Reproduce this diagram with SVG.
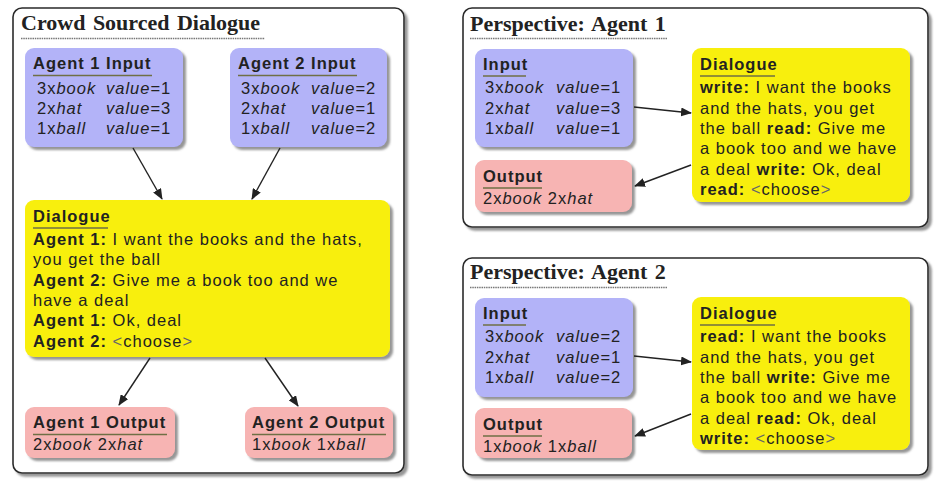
<svg xmlns="http://www.w3.org/2000/svg" width="944" height="487" viewBox="0 0 944 487">
<defs>
<filter id="sh" x="-10%" y="-10%" width="120%" height="130%">
<feDropShadow dx="3" dy="3" stdDeviation="1.2" flood-color="#8a8a8a" flood-opacity="0.9"/>
</filter>
<marker id="ah" markerUnits="userSpaceOnUse" markerWidth="11" markerHeight="9" refX="10" refY="4.5" orient="auto">
<path d="M0,0 L11,4.5 L0,9 z" fill="#222"/>
</marker>
<style>
.panel{fill:#fff;stroke:#2a2a2a;stroke-width:1.6;filter:url(#sh)}
.in{fill:#b3b3f8;filter:url(#sh)}
.out{fill:#f7b4b3;filter:url(#sh)}
.dlg{fill:#f8ef0e;filter:url(#sh)}
.title{font-family:"Liberation Serif",serif;font-weight:bold;font-size:22px;fill:#222;word-spacing:2px}
.h{font-family:"Liberation Sans",Arial,sans-serif;font-weight:bold;font-size:16.5px;letter-spacing:1px;fill:#222}
.t{font-family:"Liberation Sans",Arial,sans-serif;font-size:16.5px;letter-spacing:1px;fill:#222}
.b{font-weight:bold}
.i{font-style:italic}
.g{fill:#666}
.tul{stroke:#777;stroke-width:1.3;stroke-dasharray:1.5 0.8}
.ul{stroke:#6f6f45;stroke-width:1.3}
.conn line{stroke:#222;stroke-width:1.4;marker-end:url(#ah)}
</style>
</defs>

<g id="panel-crowd">
<rect class="panel" x="13" y="8" width="391" height="465" rx="9"/>
<text class="title" x="21" y="30">Crowd Sourced Dialogue</text>
<line class="tul" x1="21" y1="38.5" x2="265" y2="38.5"/>
</g>

<g id="agent1-input">
<rect class="in" x="25" y="48" width="158" height="99" rx="9"/>
<text class="h" x="33" y="69">Agent 1 Input</text>
<line class="ul" x1="33" y1="75.5" x2="152" y2="75.5"/>
<text class="t" x="37" y="94">3x<tspan class="i">book</tspan><tspan x="106" class="i">value</tspan>=1</text>
<text class="t" x="37" y="114">2x<tspan class="i">hat</tspan><tspan x="106" class="i">value</tspan>=3</text>
<text class="t" x="37" y="134">1x<tspan class="i">ball</tspan><tspan x="106" class="i">value</tspan>=1</text>
</g>

<g id="agent2-input">
<rect class="in" x="230" y="48" width="157" height="99" rx="9"/>
<text class="h" x="238" y="69">Agent 2 Input</text>
<line class="ul" x1="238" y1="75.5" x2="357" y2="75.5"/>
<text class="t" x="241" y="94">3x<tspan class="i">book</tspan><tspan x="311" class="i">value</tspan>=2</text>
<text class="t" x="241" y="114">2x<tspan class="i">hat</tspan><tspan x="311" class="i">value</tspan>=1</text>
<text class="t" x="241" y="134">1x<tspan class="i">ball</tspan><tspan x="311" class="i">value</tspan>=2</text>
</g>

<g id="dialogue">
<rect class="dlg" x="25" y="200" width="365" height="157" rx="9"/>
<text class="h" x="33" y="222">Dialogue</text>
<line class="ul" x1="33" y1="228" x2="108" y2="228"/>
<text class="t" x="33" y="245"><tspan class="b">Agent 1:</tspan> I want the books and the hats,</text>
<text class="t" x="33" y="265">you get the ball</text>
<text class="t" x="33" y="285.5"><tspan class="b">Agent 2:</tspan> Give me a book too and we</text>
<text class="t" x="33" y="306">have a deal</text>
<text class="t" x="33" y="326"><tspan class="b">Agent 1:</tspan> Ok, deal</text>
<text class="t" x="33" y="346.5"><tspan class="b">Agent 2:</tspan> <tspan class="g">&lt;</tspan>choose<tspan class="g">&gt;</tspan></text>
</g>

<g id="agent1-output">
<rect class="out" x="25" y="407" width="150" height="51" rx="9"/>
<text class="h" x="33" y="428">Agent 1 Output</text>
<line class="ul" x1="33" y1="434.5" x2="167" y2="434.5"/>
<text class="t" x="33" y="450">2x<tspan class="i">book</tspan> 2x<tspan class="i">hat</tspan></text>
</g>

<g id="agent2-output">
<rect class="out" x="245" y="407" width="148" height="51" rx="9"/>
<text class="h" x="252" y="428">Agent 2 Output</text>
<line class="ul" x1="252" y1="434.5" x2="386" y2="434.5"/>
<text class="t" x="252" y="450">1x<tspan class="i">book</tspan> 1x<tspan class="i">ball</tspan></text>
</g>

<g id="panel-agent1">
<rect class="panel" x="463" y="8" width="465" height="219" rx="9"/>
<text class="title" x="470" y="31">Perspective: Agent 1</text>
<line class="tul" x1="470" y1="38.5" x2="667" y2="38.5"/>
</g>

<g id="p1-input">
<rect class="in" x="475" y="49" width="158" height="98" rx="9"/>
<text class="h" x="483" y="70">Input</text>
<line class="ul" x1="483" y1="76" x2="526" y2="76"/>
<text class="t" x="485" y="93">3x<tspan class="i">book</tspan><tspan x="556" class="i">value</tspan>=1</text>
<text class="t" x="485" y="113.5">2x<tspan class="i">hat</tspan><tspan x="556" class="i">value</tspan>=3</text>
<text class="t" x="485" y="134">1x<tspan class="i">ball</tspan><tspan x="556" class="i">value</tspan>=1</text>
</g>

<g id="p1-output">
<rect class="out" x="475" y="160" width="157" height="52" rx="9"/>
<text class="h" x="483" y="182">Output</text>
<line class="ul" x1="483" y1="188" x2="542" y2="188"/>
<text class="t" x="483" y="204">2x<tspan class="i">book</tspan> 2x<tspan class="i">hat</tspan></text>
</g>

<g id="p1-dialogue">
<rect class="dlg" x="692" y="48" width="218" height="154" rx="9"/>
<text class="h" x="700" y="70">Dialogue</text>
<line class="ul" x1="700" y1="76" x2="775" y2="76"/>
<text class="t" x="700" y="93"><tspan class="b">write:</tspan> I want the books</text>
<text class="t" x="700" y="113.5">and the hats, you get</text>
<text class="t" x="700" y="134">the ball <tspan class="b">read:</tspan> Give me</text>
<text class="t" x="700" y="154">a book too and we have</text>
<text class="t" x="700" y="174.5">a deal <tspan class="b">write:</tspan> Ok, deal</text>
<text class="t" x="700" y="195"><tspan class="b">read:</tspan> <tspan class="g">&lt;</tspan>choose<tspan class="g">&gt;</tspan></text>
</g>

<g id="panel-agent2">
<rect class="panel" x="463" y="258" width="465" height="217" rx="9"/>
<text class="title" x="470" y="279">Perspective: Agent 2</text>
<line class="tul" x1="470" y1="287.5" x2="667" y2="287.5"/>
</g>

<g id="p2-input">
<rect class="in" x="475" y="298" width="158" height="99" rx="9"/>
<text class="h" x="483" y="319">Input</text>
<line class="ul" x1="483" y1="325" x2="526" y2="325"/>
<text class="t" x="485" y="342">3x<tspan class="i">book</tspan><tspan x="556" class="i">value</tspan>=2</text>
<text class="t" x="485" y="362.5">2x<tspan class="i">hat</tspan><tspan x="556" class="i">value</tspan>=1</text>
<text class="t" x="485" y="383">1x<tspan class="i">ball</tspan><tspan x="556" class="i">value</tspan>=2</text>
</g>

<g id="p2-output">
<rect class="out" x="475" y="408" width="157" height="50" rx="9"/>
<text class="h" x="483" y="430">Output</text>
<line class="ul" x1="483" y1="436" x2="542" y2="436"/>
<text class="t" x="483" y="452">1x<tspan class="i">book</tspan> 1x<tspan class="i">ball</tspan></text>
</g>

<g id="p2-dialogue">
<rect class="dlg" x="692" y="297" width="218" height="153" rx="9"/>
<text class="h" x="700" y="319">Dialogue</text>
<line class="ul" x1="700" y1="325" x2="775" y2="325"/>
<text class="t" x="700" y="342"><tspan class="b">read:</tspan> I want the books</text>
<text class="t" x="700" y="362.5">and the hats, you get</text>
<text class="t" x="700" y="383">the ball <tspan class="b">write:</tspan> Give me</text>
<text class="t" x="700" y="403">a book too and we have</text>
<text class="t" x="700" y="423.5">a deal <tspan class="b">read:</tspan> Ok, deal</text>
<text class="t" x="700" y="444"><tspan class="b">write:</tspan> <tspan class="g">&lt;</tspan>choose<tspan class="g">&gt;</tspan></text>
</g>

<g id="connectors" class="conn">
<line x1="133" y1="148" x2="162" y2="199"/>
<line x1="280" y1="148" x2="252" y2="199"/>
<line x1="150" y1="358" x2="119" y2="405"/>
<line x1="265" y1="358" x2="298" y2="406"/>
<line x1="634" y1="107" x2="691" y2="113"/>
<line x1="691" y1="165" x2="635" y2="186"/>
<line x1="634" y1="356" x2="691" y2="362"/>
<line x1="691" y1="414" x2="635" y2="436"/>
</g>
</svg>
